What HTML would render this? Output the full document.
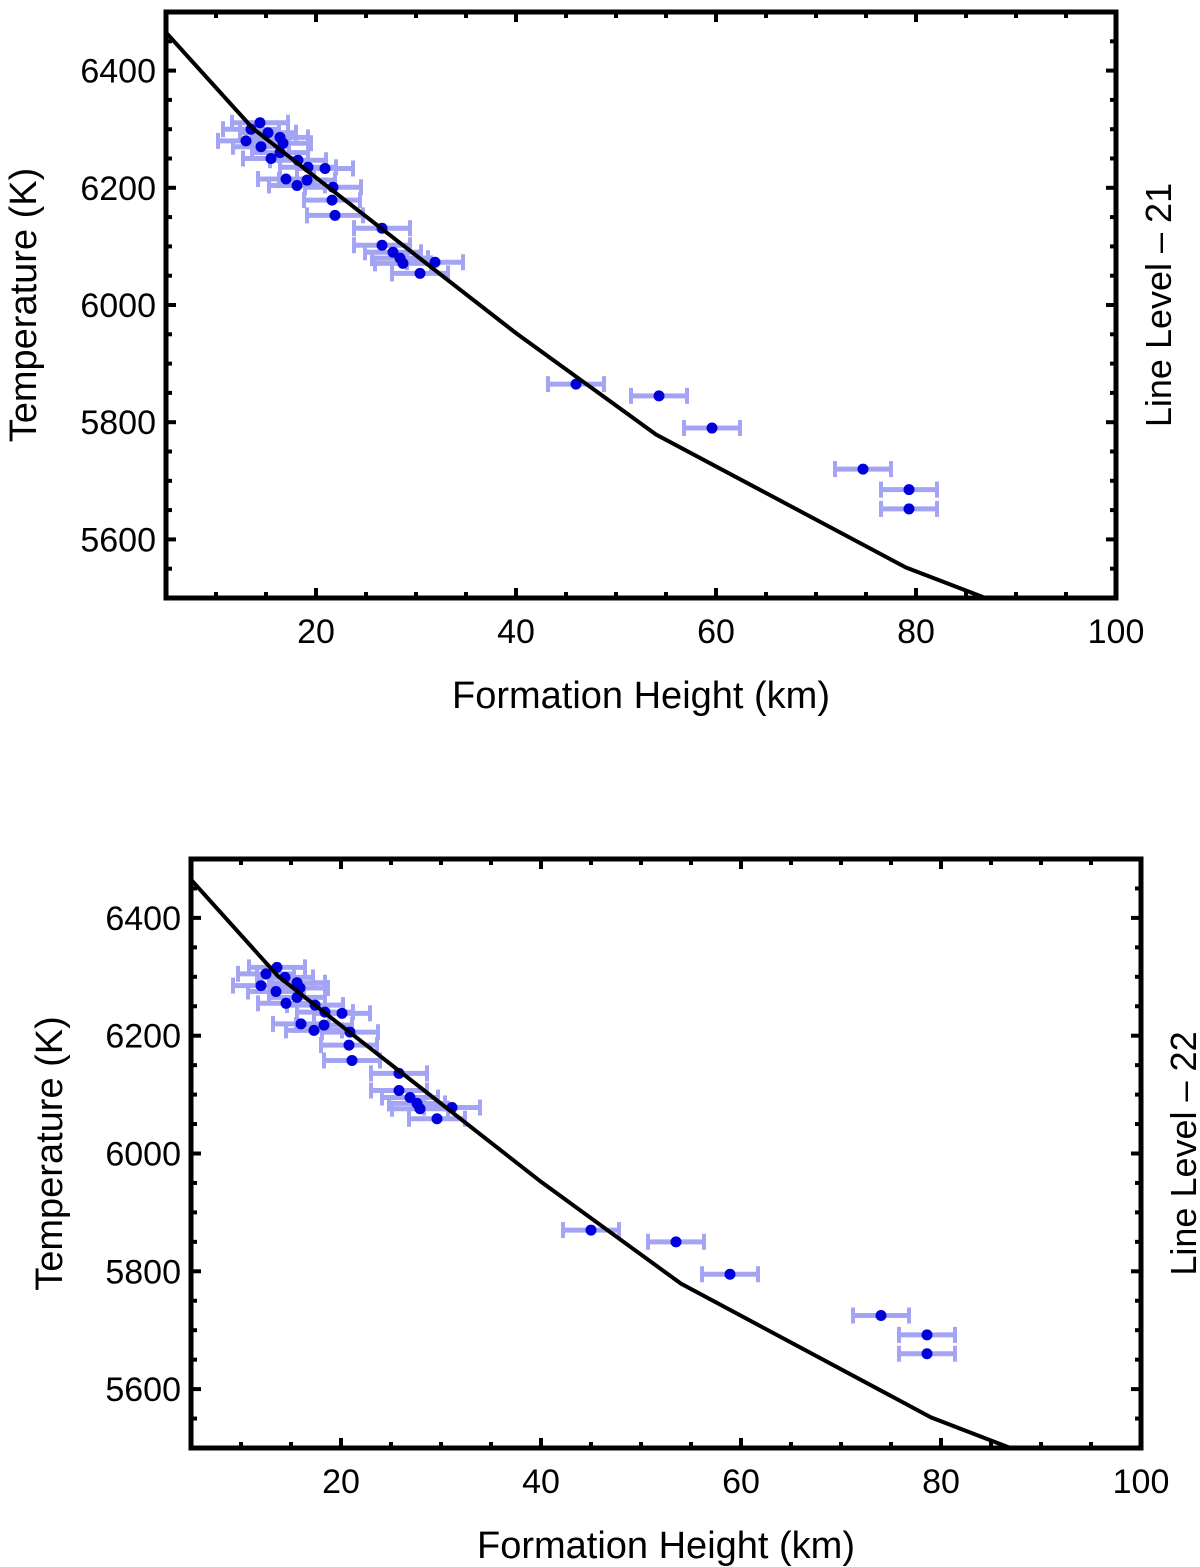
<!DOCTYPE html>
<html><head><meta charset="utf-8"><style>
body{margin:0;background:#fff;}
svg{display:block;font-family:"Liberation Sans",sans-serif;}
</style></head><body>
<svg id="chart" width="1200" height="1567" viewBox="0 0 1200 1567"></svg>
<script>
// Top panel data (Line Level – 21)
const topHeights = [13.5,13,14.5,15.5,17,14.4,15.2,16.4,16.7,16.4,18.2,19.2,20.9,18.1,19.1,21.7,21.6,21.9,26.6,26.6,27.7,28.4,28.7,31.9,30.4,46,54.3,59.6,74.7,79.3,79.3];
const topTemps = [6300,6280,6270,6250,6215,6311,6294,6286,6276,6260,6247,6235,6233,6204,6213,6201,6179,6153,6131,6102,6090,6080,6071,6073,6054,5865,5845,5790,5720,5685,5652];
// Bottom panel data (Line Level – 22)
const botHeights = [12.5,12,13.5,14.5,16,13.6,14.4,15.6,15.9,15.6,17.4,18.4,20.1,17.3,18.3,20.9,20.8,21.1,25.8,25.8,26.9,27.6,27.9,31.1,29.6,45,53.5,58.9,74,78.6,78.6];
const botTemps = [6305,6285,6275,6255,6220,6316,6299,6290,6281,6265,6252,6240,6238,6209,6218,6206,6184,6158,6136,6107,6095,6085,6076,6078,6059,5870,5850,5795,5725,5692,5660];
const errHalf = 2.8;
// Model curve
const curveHeights = [5,13.7,40,54,79,90];
const curveTemps = [6465,6301,5952,5779,5552,5480];
const xTicks = [20,40,60,80,100];
const yTicks = [5600,5800,6000,6200,6400];

const NS="http://www.w3.org/2000/svg";
const svg=document.getElementById('chart');
function mk(t,a,p){const e=document.createElementNS(NS,t);for(const k in a)e.setAttribute(k,a[k]);(p||svg).appendChild(e);return e;}

function panel(cfg){
  const g=mk('g',{});
  
  
  const X=v=>cfg.x0+(v-5)*(cfg.x1-cfg.x0)/95;
  const Y=v=>cfg.y1-(v-5500)*(cfg.y1-cfg.y0)/1000;
  const cid='clip'+cfg.name;
  const cp=mk('clipPath',{id:cid},g);mk('rect',{x:cfg.x0,y:cfg.y0,width:cfg.x1-cfg.x0,height:cfg.y1-cfg.y0},cp);
  const eg=mk('g',{'clip-path':'url(#'+cid+')'},g);
  cfg.hs.forEach((h,i)=>{
    const t=cfg.ts[i],y=Y(t),xa=X(h-errHalf),xb=X(h+errHalf);
    const b=mk('g',{},eg);
    
    
    mk('line',{x1:xa,x2:xb,y1:y,y2:y,stroke:'#a4a4f4','stroke-width':5},b);
    mk('line',{x1:xa,x2:xa,y1:y-8,y2:y+8,stroke:'#a4a4f4','stroke-width':4},b);
    mk('line',{x1:xb,x2:xb,y1:y-8,y2:y+8,stroke:'#a4a4f4','stroke-width':4},b);
  });
  cfg.hs.forEach((h,i)=>{
    const c=mk('circle',{cx:X(h),cy:Y(cfg.ts[i]),r:5.5,fill:'#0000dd'},eg);
    
    
  });
  const pl=mk('polyline',{points:curveHeights.map((h,i)=>X(h)+','+Y(curveTemps[i])).join(' '),fill:'none',stroke:'#000','stroke-width':4,'clip-path':'url(#'+cid+')'},g);
  
  
  for(let v=5;v<=100;v+=5){const x=X(v),L=(v%20===0)?10:6;
    mk('line',{x1:x,x2:x,y1:cfg.y1,y2:cfg.y1-L,stroke:'#000','stroke-width':4},g);
    mk('line',{x1:x,x2:x,y1:cfg.y0,y2:cfg.y0+L,stroke:'#000','stroke-width':4},g);}
  for(let v=5500;v<=6500;v+=50){const y=Y(v),L=(v%200===0)?10:6;
    mk('line',{x1:cfg.x0,x2:cfg.x0+L,y1:y,y2:y,stroke:'#000','stroke-width':4},g);
    mk('line',{x1:cfg.x1,x2:cfg.x1-L,y1:y,y2:y,stroke:'#000','stroke-width':4},g);}
  const fr=mk('rect',{x:cfg.x0,y:cfg.y0,width:cfg.x1-cfg.x0,height:cfg.y1-cfg.y0,fill:'none',stroke:'#000','stroke-width':5},g);
  
  
  xTicks.forEach(v=>{const t=mk('text',{x:X(v),y:cfg.y1+45,'font-size':34,'text-anchor':'middle'},g);t.textContent=v;
    
    });
  yTicks.forEach(v=>{const t=mk('text',{x:cfg.x0-10,y:Y(v)+12,'font-size':34,'text-anchor':'end'},g);t.textContent=v;
    
    });
  const xt=mk('text',{x:(cfg.x0+cfg.x1)/2,y:cfg.y1+110,'font-size':38,'text-anchor':'middle'},g);xt.textContent='Formation Height (km)';
  
  
  const yc=(cfg.y0+cfg.y1)/2;
  const yt=mk('text',{x:cfg.ytx,y:yc,'font-size':38,'text-anchor':'middle',transform:'rotate(-90 '+cfg.ytx+' '+yc+')'},g);yt.textContent='Temperature (K)';
  
  
  const rt=mk('text',{x:cfg.rtx,y:yc,'font-size':36,'text-anchor':'middle',transform:'rotate(-90 '+cfg.rtx+' '+yc+')'},g);rt.textContent=cfg.label;
  
  
}
panel({name:'panel-top',x0:166,x1:1116,y0:12,y1:598,hs:topHeights,ts:topTemps,ytx:36,rtx:1171,label:'Line Level – 21'});
panel({name:'panel-bottom',x0:191,x1:1141,y0:859,y1:1448,hs:botHeights,ts:botTemps,ytx:62,rtx:1196,label:'Line Level – 22'});
</script>
</body></html>
